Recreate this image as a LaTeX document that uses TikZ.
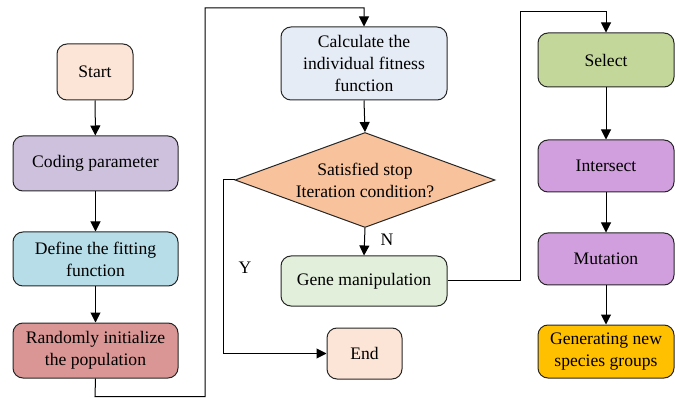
\documentclass[tikz,border=0pt]{standalone}
\usepackage{fontspec}
\setmainfont{Liberation Serif}
\newfontfamily\figfont{Liberation Serif}
\usetikzlibrary{arrows.meta,shapes.geometric}
\definecolor{cstart}{HTML}{FCE4D6}
\definecolor{ccode}{HTML}{CDC1DD}
\definecolor{cdef}{HTML}{B6DDE8}
\definecolor{crand}{HTML}{D99694}
\definecolor{ccalc}{HTML}{E6ECF5}
\definecolor{cdia}{HTML}{F8C39C}
\definecolor{cgene}{HTML}{E2EFDA}
\definecolor{csel}{HTML}{C4D79B}
\definecolor{cmut}{HTML}{D29FDE}
\definecolor{cgen}{HTML}{FFC000}
\tikzset{
  box/.style={draw=black!85, line width=1pt, rounded corners=10pt, inner sep=0pt, align=center,
    font=\figfont\fontsize{17.6}{22}\selectfont},
  dia/.style={draw=black!85, line width=1pt, shape=diamond, inner sep=0pt, fill=cdia},
  txt/.style={inner sep=0pt, align=center, font=\figfont\fontsize{17.6}{22}\selectfont},
  conn/.style={line width=1pt, -{Triangle[length=10pt,width=10pt]}},
  plain/.style={line width=1pt}
}
\begin{document}
\begin{tikzpicture}[x=1pt,y=-1pt]
\useasboundingbox (0,0) rectangle (675,398);
% left column
\node[box, fill=cstart, minimum width=76pt, minimum height=56pt] (start) at (95,72) {Start};
\node[box, fill=ccode, minimum width=165pt, minimum height=55pt] (code) at (95.5,163.5) {Coding parameter};
\node[box, fill=cdef, minimum width=165pt, minimum height=54pt] (def) at (95.5,259) {Define the fitting\\function};
\node[box, fill=crand, minimum width=165pt, minimum height=55pt] (rand) at (95.5,350.5) {Randomly initialize\\the population};
% middle column
\node[box, fill=ccalc, minimum width=166pt, minimum height=73pt] (calc) at (364,63.5) {Calculate the\\individual fitness\\function};
\node[dia, minimum width=260pt, minimum height=95pt] (cond) at (365,180) {};
\node[txt] (condtxt) at (365,180) {Satisfied stop\\Iteration condition?};
\node[box, fill=cgene, minimum width=166pt, minimum height=50pt] (gene) at (364,281) {Gene manipulation};
\node[box, fill=cstart, minimum width=75pt, minimum height=51pt] (end) at (364.5,353.5) {End};
% right column
\node[box, fill=csel, minimum width=136pt, minimum height=54pt] (sel) at (606,60) {Select};
\node[box, fill=cmut, minimum width=136pt, minimum height=52pt] (inter) at (606,166) {Intersect};
\node[box, fill=cmut, minimum width=136pt, minimum height=52pt] (mut) at (606,259) {Mutation};
\node[box, fill=cgen, minimum width=136pt, minimum height=53pt] (gen) at (606,351.5) {Generating new\\species groups};
% helper coordinates
\coordinate (r1) at (95,396.5);
\coordinate (r2) at (205,396.5);
\coordinate (r3) at (205,8);
\coordinate (r4) at (364,8);
\coordinate (y1) at (223,180);
\coordinate (y2) at (223,353.5);
\coordinate (g1) at (520,281);
\coordinate (g2) at (520,12);
\coordinate (g3) at (606,12);
% connectors
\draw[conn] (start) -- (code);
\draw[conn] (code) -- (def);
\draw[conn] (def) -- (rand);
\draw[conn] (rand.south) -- (r1) -- (r2) -- (r3) -- (r4) -- (calc.north);
\draw[conn] (calc.south) -- (cond.north);
\draw[conn] (cond.south) -- (gene.north);
\draw[conn] (cond.west) -- (y1) -- (y2) -- (end.west);
\draw[conn] (gene.east) -- (g1) -- (g2) -- (g3) -- (sel.north);
\draw[conn] (sel) -- (inter);
\draw[conn] (inter) -- (mut);
\draw[conn] (mut) -- (gen);
% labels
\node[txt] (nlab) at (387,240) {N};
\node[txt] (ylab) at (245,268) {Y};
\end{tikzpicture}
\end{document}
